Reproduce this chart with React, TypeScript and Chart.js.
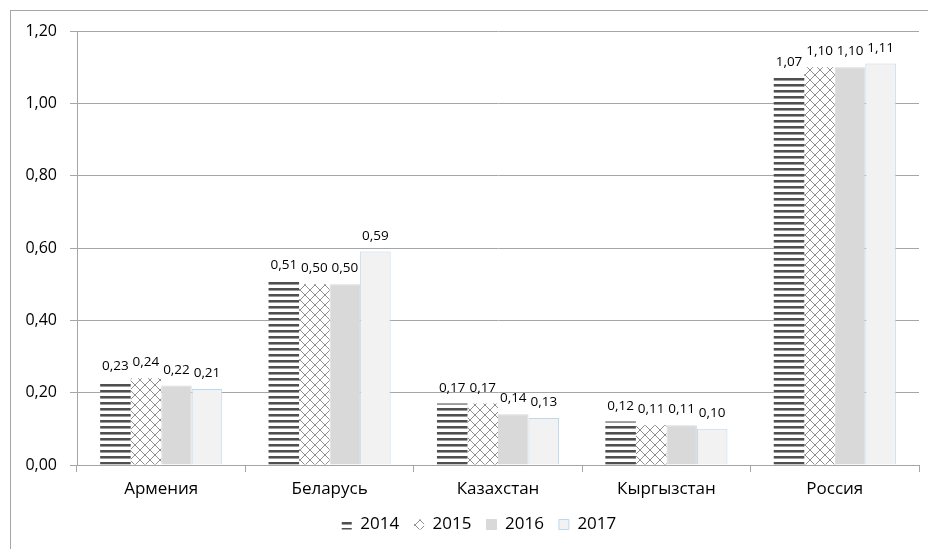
import React, { useEffect, useRef } from "react";
import { Chart, registerables } from "chart.js";

Chart.register(...registerables);

const categories = ["Армения", "Беларусь", "Казахстан", "Кыргызстан", "Россия"];
const seriesNames = ["2014", "2015", "2016", "2017"];
const values2014 = [0.23, 0.51, 0.17, 0.12, 1.07];
const values2015 = [0.24, 0.5, 0.17, 0.11, 1.1];
const values2016 = [0.22, 0.5, 0.14, 0.11, 1.1];
const values2017 = [0.21, 0.59, 0.13, 0.1, 1.11];
const yTicks = [0, 0.2, 0.4, 0.6, 0.8, 1.0, 1.2];

const FONT = "'Open Sans', 'DejaVu Sans', sans-serif";
const fmt = (v: number) => v.toFixed(2).replace(".", ",");

function stripePattern(): CanvasPattern | string {
  const c = document.createElement("canvas");
  c.width = 6;
  c.height = 6;
  const ctx = c.getContext("2d");
  if (!ctx) return "#595959";
  ctx.fillStyle = "#ffffff";
  ctx.fillRect(0, 0, 6, 6);
  ctx.fillStyle = "#4f4f4f";
  ctx.fillRect(0, 0, 6, 2);
  ctx.fillStyle = "#9a9a9a";
  ctx.fillRect(0, 2, 6, 1);
  return ctx.createPattern(c, "repeat") || "#595959";
}

function crossPattern(): CanvasPattern | string {
  const s = 10;
  const c = document.createElement("canvas");
  c.width = s;
  c.height = s;
  const ctx = c.getContext("2d");
  if (!ctx) return "#aaaaaa";
  ctx.fillStyle = "#ffffff";
  ctx.fillRect(0, 0, s, s);
  ctx.strokeStyle = "#8f8f8f";
  ctx.lineWidth = 1;
  ctx.beginPath();
  ctx.moveTo(-1, -1);
  ctx.lineTo(s + 1, s + 1);
  ctx.moveTo(s + 1, -1);
  ctx.lineTo(-1, s + 1);
  ctx.stroke();
  return ctx.createPattern(c, "repeat") || "#aaaaaa";
}

const dataLabels = {
  id: "dataLabels",
  afterDatasetsDraw(chart: any) {
    const ctx = chart.ctx;
    ctx.save();
    ctx.font = `13.5px ${FONT}`;
    ctx.fillStyle = "#000000";
    ctx.textAlign = "center";
    ctx.textBaseline = "bottom";
    chart.data.datasets.forEach((ds: any, i: number) => {
      const meta = chart.getDatasetMeta(i);
      meta.data.forEach((el: any, j: number) => {
        ctx.fillText(fmt(ds.data[j]), el.x, el.y - 9);
      });
    });
    ctx.restore();
  },
};

const legendShift = {
  id: "legendShift",
  afterLayout(chart: any) {
    const lg = chart.legend;
    if (lg) {
      lg.left += 14.5;
      lg.right += 14.5;
    }
  },
};

export default function App() {
  const ref = useRef<HTMLCanvasElement | null>(null);

  useEffect(() => {
    if (!ref.current) return;
    const fills = [stripePattern(), crossPattern(), "#d9d9d9", "#f2f2f2"];
    const borders = ["rgba(0,0,0,0)", "rgba(0,0,0,0)", "#d9d9d9", "#bdd7ee"];
    const seriesData = [values2014, values2015, values2016, values2017];
    const chart = new Chart(ref.current, {
      type: "bar",
      data: {
        labels: categories,
        datasets: seriesNames.map((name, i) => ({
          label: name,
          data: seriesData[i],
          backgroundColor: fills[i] as any,
          borderColor: borders[i],
          borderWidth: i >= 2 ? 1 : 0,
          categoryPercentage: 0.725,
          barPercentage: 1.0,
        })),
      },
      options: {
        responsive: false,
        animation: false,
        devicePixelRatio: 1,
        layout: { padding: { left: 10, right: 9, top: 31, bottom: 6 } },
        plugins: {
          legend: {
            position: "bottom",
            labels: {
              font: { family: FONT, size: 17 },
              color: "#000000",
              boxWidth: 10,
              boxHeight: 10,
              padding: 15,
            },
          },
          tooltip: { enabled: false },
        },
        scales: {
          x: {
            afterFit(scale: any) {
              scale.height = 36;
            },
            grid: {
              display: true,
              drawOnChartArea: false,
              drawTicks: true,
              tickLength: 7,
              color: "#a6a6a6",
              offset: true,
            },
            border: { display: true, color: "#a6a6a6" },
            ticks: {
              font: { family: FONT, size: 17 },
              color: "#000000",
              padding: 7,
              maxRotation: 0,
            },
          },
          y: {
            min: 0,
            max: 1.2,
            afterFit(scale: any) {
              scale.width = 67;
            },
            afterBuildTicks(scale: any) {
              scale.ticks = yTicks.map((v) => ({ value: v }));
            },
            grid: {
              color: "#a6a6a6",
              tickLength: 7,
            },
            border: { display: true, color: "#a6a6a6" },
            ticks: {
              font: { family: FONT, size: 16 },
              color: "#000000",
              padding: 13,
              callback: (v: any) => fmt(Number(v)),
            },
          },
        },
      },
      plugins: [dataLabels, legendShift],
    });
    return () => chart.destroy();
  }, []);

  return (
    <div
      style={{
        position: "fixed",
        left: 0,
        top: 0,
        width: 928,
        height: 549,
        overflow: "hidden",
        background: "#ffffff",
      }}
    >
      <div
        style={{
          position: "absolute",
          left: 10,
          top: 10,
          width: 960,
          height: 600,
          border: "1px solid #a6a6a6",
        }}
      />
      <canvas
        ref={ref}
        width={928}
        height={549}
        style={{ position: "absolute", left: 0, top: 0, width: 928, height: 549 }}
      />
    </div>
  );
}
